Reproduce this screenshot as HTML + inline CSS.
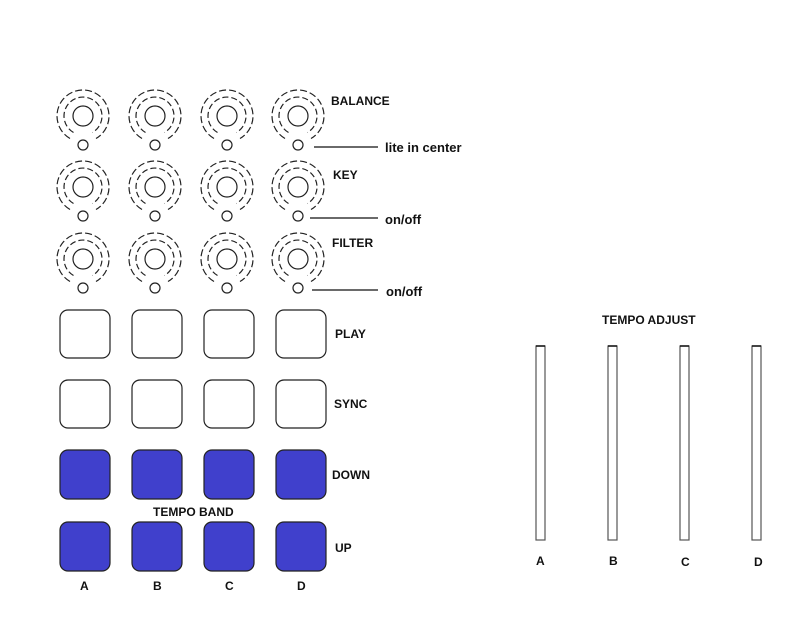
<!DOCTYPE html>
<html><head><meta charset="utf-8"><style>
html,body{margin:0;padding:0;background:#fff;}
svg{display:block;}
text{font-family:"Liberation Sans",sans-serif;font-size:12px;font-weight:bold;fill:#111;}
text.l{font-size:13px;}
</style></head><body>
<svg width="809" height="622" viewBox="0 0 809 622" xmlns="http://www.w3.org/2000/svg">
<defs>
<g id="k" fill="none" stroke="#222" stroke-width="1.2">
<path d="M-13,22.5 A26,26 0 1 1 13,22.5" stroke-dasharray="7 3"/>
<path d="M-9.5,16.5 A19,19 0 1 1 9.5,16.5" stroke-dasharray="6 3"/>
<circle r="10"/>
<circle cy="29" r="5"/>
</g>
</defs>
<use href="#k" x="83" y="116"/><use href="#k" x="155" y="116"/><use href="#k" x="227" y="116"/><use href="#k" x="298" y="116"/>
<use href="#k" x="83" y="187"/><use href="#k" x="155" y="187"/><use href="#k" x="227" y="187"/><use href="#k" x="298" y="187"/>
<use href="#k" x="83" y="259"/><use href="#k" x="155" y="259"/><use href="#k" x="227" y="259"/><use href="#k" x="298" y="259"/>
<g stroke="#111" stroke-width="1.2">
<line x1="314" y1="147" x2="378" y2="147"/>
<line x1="310" y1="218" x2="378" y2="218"/>
<line x1="312" y1="290" x2="378" y2="290"/>
</g>
<text x="331" y="105">BALANCE</text>
<text class="l" x="385" y="152">lite in center</text>
<text x="333" y="179">KEY</text>
<text class="l" x="385" y="224">on/off</text>
<text x="332" y="247">FILTER</text>
<text class="l" x="386" y="296">on/off</text>
<g fill="#fff" stroke="#222" stroke-width="1.2">
<rect x="60" y="310" width="50" height="48" rx="8"/><rect x="132" y="310" width="50" height="48" rx="8"/><rect x="204" y="310" width="50" height="48" rx="8"/><rect x="276" y="310" width="50" height="48" rx="8"/>
<rect x="60" y="380" width="50" height="48" rx="8"/><rect x="132" y="380" width="50" height="48" rx="8"/><rect x="204" y="380" width="50" height="48" rx="8"/><rect x="276" y="380" width="50" height="48" rx="8"/>
</g>
<g fill="#4040cc" stroke="#222" stroke-width="1.2">
<rect x="60" y="450" width="50" height="49" rx="8"/><rect x="132" y="450" width="50" height="49" rx="8"/><rect x="204" y="450" width="50" height="49" rx="8"/><rect x="276" y="450" width="50" height="49" rx="8"/>
<rect x="60" y="522" width="50" height="49" rx="8"/><rect x="132" y="522" width="50" height="49" rx="8"/><rect x="204" y="522" width="50" height="49" rx="8"/><rect x="276" y="522" width="50" height="49" rx="8"/>
</g>
<text x="335" y="338">PLAY</text>
<text x="334" y="408">SYNC</text>
<text x="332" y="479">DOWN</text>
<text x="335" y="552">UP</text>
<text x="153" y="516">TEMPO BAND</text>
<text x="80" y="590">A</text><text x="153" y="590">B</text><text x="225" y="590">C</text><text x="297" y="590">D</text>
<text x="602" y="324">TEMPO ADJUST</text>
<g fill="#fff" stroke="#555" stroke-width="1.2">
<rect x="536" y="346" width="9" height="194"/><rect x="608" y="346" width="9" height="194"/><rect x="680" y="346" width="9" height="194"/><rect x="752" y="346" width="9" height="194"/>
</g>
<g stroke="#111" stroke-width="1.5"><line x1="536" y1="346" x2="545" y2="346"/><line x1="608" y1="346" x2="617" y2="346"/><line x1="680" y1="346" x2="689" y2="346"/><line x1="752" y1="346" x2="761" y2="346"/></g>
<text x="536" y="565">A</text><text x="609" y="565">B</text><text x="681" y="566">C</text><text x="754" y="566">D</text>
</svg>
</body></html>
